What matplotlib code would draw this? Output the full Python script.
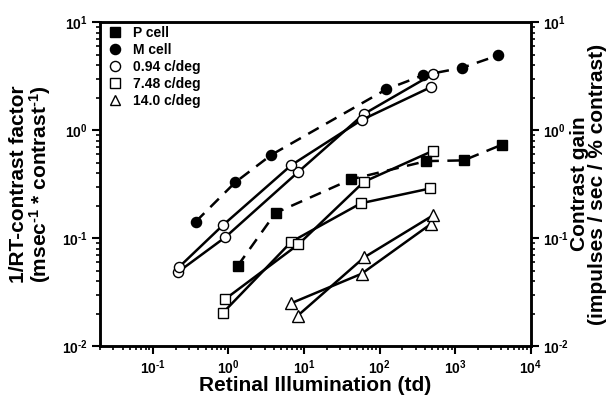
import numpy as np
import matplotlib
matplotlib.use("Agg")
import matplotlib.pyplot as plt
from matplotlib.lines import Line2D
from matplotlib.ticker import LogLocator, NullFormatter, FuncFormatter

plt.rcParams['font.family'] = ['Liberation Sans', 'DejaVu Sans']
plt.rcParams['font.weight'] = 'bold'
plt.rcParams['mathtext.fontset'] = 'custom'
plt.rcParams['mathtext.rm'] = 'Liberation Sans:bold'
plt.rcParams['mathtext.bf'] = 'Liberation Sans:bold'
plt.rcParams['mathtext.it'] = 'Liberation Sans:bold'
plt.rcParams['mathtext.default'] = 'rm'
plt.rcParams['axes.unicode_minus'] = False

# cells (dashed)
m_x = [0.37, 1.23, 3.7, 122, 370, 1240, 3700]
m_y = [0.142, 0.328, 0.59, 2.38, 3.21, 3.78, 4.92]
p_x = [1.33, 4.2, 42, 413, 1290, 4130]
p_y = [0.0555, 0.171, 0.35, 0.516, 0.524, 0.731]

# 0.94 c/deg, two observers
c1_x = [0.224, 0.84, 6.8, 57.8, 477]
c1_y = [0.0542, 0.131, 0.474, 1.24, 2.5]
c2_x = [0.215, 0.904, 8.43, 62, 507]
c2_y = [0.0484, 0.1015, 0.411, 1.41, 3.3]

# 7.48 c/deg
s1_x = [0.84, 6.8, 56.6, 467]
s1_y = [0.0202, 0.0924, 0.21, 0.288]
s2_x = [0.893, 8.43, 62, 501]
s2_y = [0.027, 0.0874, 0.332, 0.64]

# 14.0 c/deg
t1_x = [6.66, 57.8, 477]
t1_y = [0.0248, 0.0467, 0.135]
t2_x = [8.25, 62.6, 507]
t2_y = [0.0191, 0.0663, 0.162]


def pow_label(v, pos):
    e = int(round(np.log10(v)))
    if e < 0:
        return r'$10^{\text{-}%d}$' % (-e)
    return r'$10^{%d}$' % e


fig = plt.figure(figsize=(6.08, 3.95), dpi=100)
ax = fig.add_axes([0.1645, 0.124, 0.7085, 0.82])

lw = 1.8
ms = 7.3
for x, y in [(c2_x, c2_y), (c1_x, c1_y)]:
    ax.plot(x, y, 'k-', lw=lw, marker='o', ms=ms, mfc='white', mec='black', mew=1)
for x, y in [(s1_x, s1_y), (s2_x, s2_y)]:
    ax.plot(x, y, 'k-', lw=lw, marker='s', ms=ms - 0.5, mfc='white', mec='black', mew=1)
for x, y in [(t1_x, t1_y), (t2_x, t2_y)]:
    ax.plot(x, y, 'k-', lw=lw, marker='^', ms=ms + 0.7, mfc='white', mec='black', mew=1)

l1, = ax.plot(m_x, m_y, 'k--', lw=lw, marker='o', ms=ms, mfc='black', mec='black')
l1.set_dashes((4.8, 3.4))
l2, = ax.plot(p_x, p_y, 'k--', lw=lw, marker='s', ms=ms - 0.8, mfc='black', mec='black')
l2.set_dashes((4.8, 3.4))

ax.set_xscale('log')
ax.set_yscale('log')
ax.set_xlim(0.02, 1e4)
ax.set_ylim(1e-2, 1e1)

ax.xaxis.set_major_locator(LogLocator(base=10, numticks=10))
ax.xaxis.set_minor_locator(LogLocator(base=10, subs=np.arange(2, 10), numticks=20))
ax.xaxis.set_minor_formatter(NullFormatter())
ax.xaxis.set_major_formatter(FuncFormatter(pow_label))
ax.yaxis.set_major_formatter(FuncFormatter(pow_label))

ax.tick_params(which='major', direction='out', length=6, width=1.5, labelsize=10, pad=3)
ax.tick_params(which='minor', direction='out', length=3, width=1.2)
for sp in ax.spines.values():
    sp.set_linewidth(1.8)

ax.set_xlabel('Retinal Illumination (td)', fontsize=15, fontweight='bold', labelpad=-1)
ax.set_ylabel('1/RT-contrast factor\n' + r'(msec$^{\text{-}1}$ * contrast$^{\text{-}1}$)',
              fontsize=15, fontweight='bold', linespacing=0.95)
ax.yaxis.set_label_coords(-0.109, 0.5)

ax2 = ax.twinx()
ax2.set_yscale('log')
ax2.set_ylim(1e-2, 1e1)
ax2.yaxis.set_major_formatter(FuncFormatter(pow_label))
ax2.tick_params(which='major', direction='out', length=6, width=1.5, labelsize=10, pad=3)
ax2.tick_params(which='minor', direction='out', length=3, width=1.2)
ax2.set_ylabel('Contrast gain\n(impulses / sec / % contrast)', fontsize=15,
               fontweight='bold', linespacing=0.95)
ax2.yaxis.set_label_coords(1.09, 0.5)
for sp in ax2.spines.values():
    sp.set_linewidth(1.8)

handles = [
    Line2D([], [], ls='none', marker='s', ms=6.5, mfc='black', mec='black'),
    Line2D([], [], ls='none', marker='o', ms=7.3, mfc='black', mec='black'),
    Line2D([], [], ls='none', marker='o', ms=7.3, mfc='white', mec='black'),
    Line2D([], [], ls='none', marker='s', ms=6.5, mfc='white', mec='black'),
    Line2D([], [], ls='none', marker='^', ms=7.5, mfc='white', mec='black'),
]
labels = ['P cell', 'M cell', '0.94 c/deg', '7.48 c/deg', '14.0 c/deg']
ax.legend(handles, labels, loc='upper left', bbox_to_anchor=(0.011, 1.0), frameon=False,
          fontsize=10, handletextpad=0.8, labelspacing=0.22, borderaxespad=0.0,
          handlelength=1.0, borderpad=0.25)

fig.savefig('out.png', dpi=100)
